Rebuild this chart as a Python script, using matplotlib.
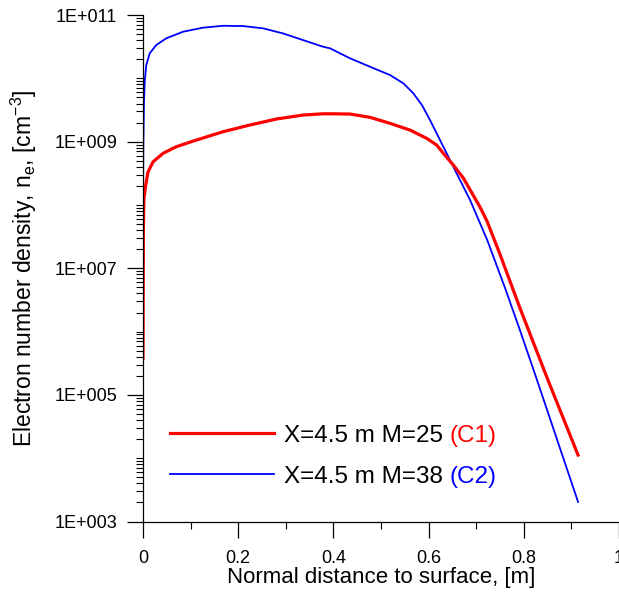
import numpy as np
import matplotlib
matplotlib.use('Agg')
import matplotlib.pyplot as plt
from matplotlib.ticker import FixedLocator, LogLocator, FuncFormatter, MultipleLocator
from matplotlib.transforms import IdentityTransform

plt.rcParams['font.family'] = ['Liberation Sans', 'DejaVu Sans']

# curve C1: X=4.5 m, M=25 (log10 of n_e)
c1_x = [0.0, 0.0008, 0.002, 0.0057, 0.0105, 0.021, 0.042, 0.070, 0.112, 0.168,
        0.224, 0.280, 0.336, 0.378, 0.399, 0.435, 0.477, 0.519, 0.561, 0.596,
        0.617, 0.634, 0.652, 0.673, 0.708, 0.723, 0.750, 0.792, 0.851, 0.914]
c1_log = [5.58, 7.60, 8.10, 8.31, 8.52, 8.68, 8.815, 8.92, 9.025, 9.156,
          9.262, 9.357, 9.42, 9.44, 9.44, 9.436, 9.384, 9.289, 9.183, 9.052,
          8.946, 8.788, 8.63, 8.425, 7.967, 7.74, 7.22, 6.37, 5.23, 4.05]

# curve C2: X=4.5 m, M=38
c2_x = [0.0, 0.0006, 0.002, 0.0036, 0.0069, 0.0141, 0.0279, 0.0489, 0.084, 0.126,
        0.168, 0.210, 0.252, 0.294, 0.336, 0.378, 0.393, 0.435, 0.477, 0.519,
        0.547, 0.568, 0.586, 0.603, 0.624, 0.645, 0.666, 0.687, 0.723, 0.761,
        0.792, 0.828, 0.914]
c2_log = [7.67, 8.87, 9.60, 9.946, 10.21, 10.395, 10.526, 10.632, 10.736, 10.80,
          10.83, 10.826, 10.79, 10.71, 10.605, 10.50, 10.474, 10.316, 10.183, 10.052,
          9.921, 9.763, 9.578, 9.341, 9.025, 8.709, 8.393, 8.08, 7.45, 6.68,
          6.02, 5.23, 3.31]

labels = ['X=4.5 m M=25', 'X=4.5 m M=38']
tags = ['(C1)', '(C2)']
colors = ['#ff0000', '#0000ff']

fig = plt.figure(figsize=(6.19, 5.94), dpi=100)
ax = fig.add_axes([0.231, 0.122, 0.769, 0.8527])

l2, = ax.plot(c2_x, 10 ** np.array(c2_log), color=colors[1], lw=1.3)
l1, = ax.plot(c1_x, 10 ** np.array(c1_log), color=colors[0], lw=2.3)

ax.set_yscale('log')
ax.set_xlim(0, 1)
ax.set_ylim(1e3, 1e11)

ax.yaxis.set_major_locator(FixedLocator([1e3, 1e5, 1e7, 1e9, 1e11]))
ax.yaxis.set_minor_locator(LogLocator(base=10, subs=np.arange(1, 10), numticks=50))
ax.yaxis.set_major_formatter(FuncFormatter(lambda v, p: '1E+%03d' % round(np.log10(v))))
ax.yaxis.set_minor_formatter(FuncFormatter(lambda v, p: ''))
ax.xaxis.set_major_locator(MultipleLocator(0.2))
ax.xaxis.set_minor_locator(MultipleLocator(0.1))
ax.xaxis.set_major_formatter(FuncFormatter(lambda v, p: '%g' % v))

ax.tick_params(which='major', direction='out', length=11.5, width=0.9, labelsize=13)
ax.tick_params(which='minor', direction='out', length=5, width=0.8)
ax.tick_params(axis='x', which='major', pad=9)
ax.tick_params(axis='y', which='major', pad=7)

for s in ['top', 'right']:
    ax.spines[s].set_visible(False)
for s in ['left', 'bottom']:
    ax.spines[s].set_linewidth(0.9)

ax.set_xlabel('Normal distance to surface, [m]', fontsize=16, labelpad=0)
ax.set_ylabel('Electron number density, n$_\\mathregular{e}$, [cm$^\\mathregular{-3}$]',
              fontsize=16.5, labelpad=11)

leg = ax.legend([l1, l2], labels, loc='lower left', bbox_to_anchor=(0.01, 0.024),
                frameon=False, fontsize=17.5, handlelength=4.3, handletextpad=0.4,
                labelspacing=0.78)

# coloured (C1)/(C2) tags after the legend text
fig.canvas.draw()
for txt, tag, c in zip(leg.get_texts(), tags, colors):
    bb = txt.get_window_extent()
    fig.text(bb.x1 + 7, bb.y0, tag, transform=IdentityTransform(),
             color=c, fontsize=17.5, va='bottom', ha='left')

fig.savefig('out.png', dpi=100)
